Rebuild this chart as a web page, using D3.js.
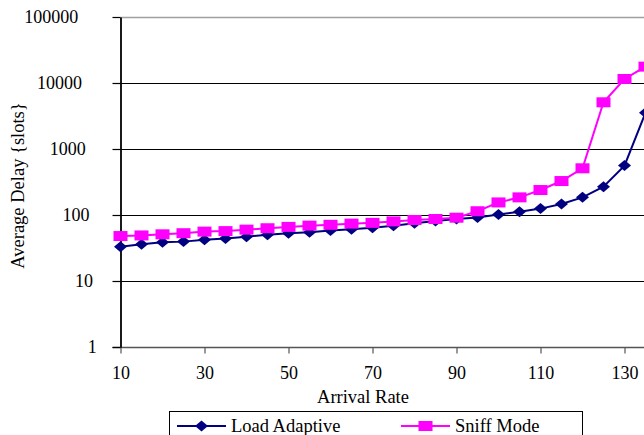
<!DOCTYPE html>
<html>
<head>
<meta charset="utf-8">
<script src="https://cdn.jsdelivr.net/npm/d3@7"></script>
<style>
  html, body { margin: 0; padding: 0; background: #fff; overflow: hidden; }
</style>
</head>
<body>
<div class="chart"></div>
<script>
// arrival rates (x) and average delay in slots for the two schemes
const rates = [10, 15, 20, 25, 30, 35, 40, 45, 50, 55, 60, 65, 70, 75, 80, 85, 90, 95, 100, 105, 110, 115, 120, 125, 130, 135];
const loadAdaptive = [33, 36, 38.5, 39.5, 42, 44, 47, 50, 53, 55, 58, 61, 64, 69, 75, 81, 87, 92, 102, 112, 125, 147, 185, 269, 560, 3550];
const sniffMode = [48, 49, 51, 53, 56, 57, 60, 63, 66, 69, 71, 74, 76, 80, 84, 87, 91, 114, 155, 185, 239, 327, 510, 5100, 11500, 17700];
const xTicks = [10, 30, 50, 70, 90, 110, 130];
const yTicks = [1, 10, 100, 1000, 10000, 100000];
const seriesNames = ["Load Adaptive", "Sniff Mode"];

const width = 644, height = 435;
const font = "'Liberation Serif'";

const svg = d3.select(".chart").append("svg")
  .attr("width", width)
  .attr("height", height)
  .style("display", "block");

const x = d3.scaleLinear().domain([10, 130]).range([120.5, 624.5]);
const y = d3.scaleLog().domain([1, 100000]).range([347, 17]);

// gridlines
svg.append("g")
  .selectAll("line")
  .data(yTicks.slice(1))
  .enter()
  .append("line")
  .attr("x1", x(10))
  .attr("x2", width + 10)
  .attr("y1", (d) => Math.round(y(d)) + 0.5)
  .attr("y2", (d) => Math.round(y(d)) + 0.5)
  .attr("stroke", (d) => (d === 100000 ? "#a0a0a0" : "#000"))
  .attr("stroke-width", (d) => (d === 100000 ? 1.5 : 1.2));

// x axis
const xAxis = svg.append("g")
  .attr("transform", "translate(0," + (Math.round(y(1)) + 0.5) + ")")
  .call(d3.axisBottom(x).tickValues(xTicks).tickSize(6).tickPadding(13).tickSizeOuter(0));
xAxis.select(".domain").attr("d", "M" + (x(10) - 8) + ",0H" + (width + 10)).attr("stroke", "#555").attr("stroke-width", 1.5);
xAxis.selectAll(".tick line").attr("stroke", "#555").attr("stroke-width", 1.2);
xAxis.selectAll(".tick text")
  .attr("fill", "#000")
  .style("font-family", font)
  .style("font-size", "18px");

// y axis
const yAxis = svg.append("g")
  .attr("transform", "translate(" + x(10) + ",0)")
  .call(d3.axisLeft(y).tickValues(yTicks).tickFormat(d3.format("d")).tickSize(8).tickSizeOuter(0));
yAxis.select(".domain").attr("stroke", "#000").attr("stroke-width", 1.8);
yAxis.selectAll(".tick line").attr("stroke", "#000").attr("stroke-width", 1.2);
yAxis.selectAll(".tick text")
  .attr("fill", "#000")
  .attr("x", (d) => -20 - 3.7 * String(d).length)
  .style("font-family", font)
  .style("font-size", "18px");

// axis titles
svg.append("text")
  .attr("x", 363)
  .attr("y", 403)
  .attr("text-anchor", "middle")
  .style("font-family", font)
  .style("font-size", "18.5px")
  .text("Arrival Rate");

svg.append("text")
  .attr("transform", "translate(24,185.5) rotate(-90)")
  .attr("text-anchor", "middle")
  .style("font-family", font)
  .style("font-size", "18.5px")
  .text("Average Delay {slots}");

const series = [
  { name: seriesNames[0], values: loadAdaptive, color: "#000080", shape: "diamond" },
  { name: seriesNames[1], values: sniffMode, color: "#ff00ff", shape: "square" },
];

const line = d3.line()
  .x((d) => x(d[0]))
  .y((d) => y(d[1]));

const marker = (g, s) => {
  if (s.shape === "diamond") {
    g.append("path").attr("d", "M0,-5.5L6.5,0L0,5.5L-6.5,0Z").attr("fill", s.color);
  } else {
    g.append("rect").attr("x", -7).attr("y", -5).attr("width", 14).attr("height", 10).attr("fill", s.color);
  }
};

series.forEach((s) => {
  const pts = rates.map((r, i) => [r, s.values[i]]);
  svg.append("path")
    .datum(pts)
    .attr("d", line)
    .attr("fill", "none")
    .attr("stroke", s.color)
    .attr("stroke-width", 2);
  svg.append("g")
    .selectAll("g")
    .data(pts)
    .enter()
    .append("g")
    .attr("transform", (d) => "translate(" + x(d[0]) + "," + y(d[1]) + ")")
    .each(function () { marker(d3.select(this), s); });
});

// legend
const legend = svg.append("g");
legend.append("rect")
  .attr("x", 169.5)
  .attr("y", 411.5)
  .attr("width", 413)
  .attr("height", 40)
  .attr("fill", "#fff")
  .attr("stroke", "#000")
  .attr("stroke-width", 1);

const legendG = legend.selectAll(".legend")
  .data(series)
  .enter()
  .append("g")
  .attr("class", "legend")
  .attr("transform", (d, i) => "translate(" + (177 + i * 224) + ",426)");

legendG.append("line")
  .attr("x1", 0)
  .attr("x2", 49)
  .attr("stroke", (d) => d.color)
  .attr("stroke-width", 2);

legendG.each(function (d) {
  const g = d3.select(this).append("g").attr("transform", "translate(24.5,0)");
  marker(g, d);
});

legendG.append("text")
  .attr("x", 54)
  .attr("y", 6)
  .style("font-family", font)
  .style("font-size", "18.5px")
  .text((d) => d.name);
</script>
</body>
</html>
